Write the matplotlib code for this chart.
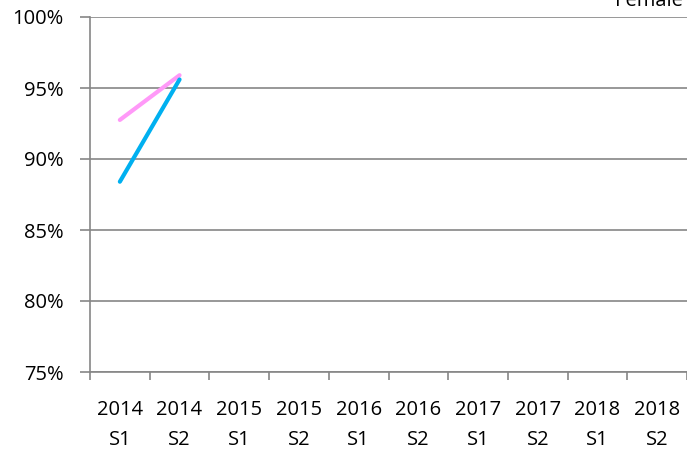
import matplotlib.pyplot as plt
import numpy as np

# --- données ---
categories = ["2014\nS1", "2014\nS2", "2015\nS1", "2015\nS2", "2016\nS1",
              "2016\nS2", "2017\nS1", "2017\nS2", "2018\nS1", "2018\nS2"]
female = [92.75, 95.9]
male = [88.4, 95.6]

plt.rcParams['font.family'] = ['Open Sans', 'DejaVu Sans']

fig = plt.figure(figsize=(6.87, 4.54), dpi=100)
ax = fig.add_axes([90 / 687, 1 - 372 / 454, 597 / 687, 355 / 454])

x = np.arange(len(categories))
ax.plot(x[:len(female)], female, color='#FF99F8', linewidth=3, solid_capstyle='round')
ax.plot(x[:len(male)], male, color='#00B0F0', linewidth=3, solid_capstyle='round')

ax.set_xlim(-0.5, len(categories) - 0.5)
ax.set_ylim(75, 100)
ax.set_yticks(np.arange(75, 101, 5))
ax.set_yticklabels([f"{v}%" for v in range(75, 101, 5)], fontsize=14.5)
ax.set_xticks(x)
ax.set_xticklabels(categories, fontsize=14.5, linespacing=1.65)
ax.set_xticks(np.arange(-0.5, len(categories), 1), minor=True)
ax.tick_params(axis='x', which='major', length=0, pad=20)
ax.tick_params(axis='x', which='minor', length=6, color='#868686', width=1.2)
ax.tick_params(axis='y', length=7, color='#868686', width=1.2, pad=12)

ax.grid(True, axis='y', color='#868686', linewidth=1.2)
ax.set_axisbelow(True)
for s in ['top', 'right']:
    ax.spines[s].set_visible(False)
ax.spines['left'].set_color('#868686')
ax.spines['bottom'].set_color('#868686')
ax.spines['left'].set_linewidth(1.2)
ax.spines['bottom'].set_linewidth(1.2)

fig.text(0.994, 1 - 6 / 454, "Female", ha='right', va='baseline', fontsize=14.5)

fig.savefig("out.png", dpi=100)
